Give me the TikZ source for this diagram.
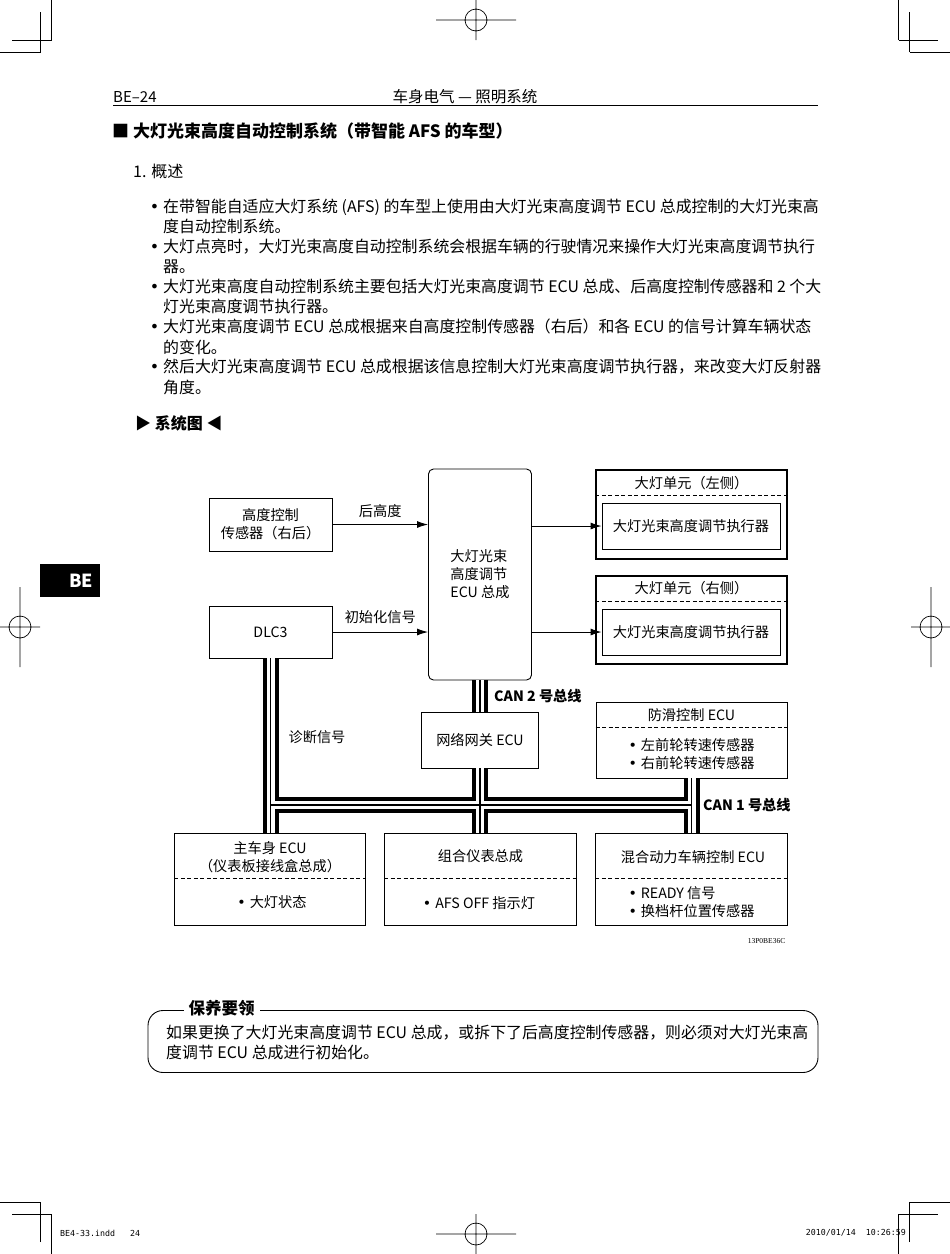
\documentclass[tikz,border=0pt]{standalone}
\usepackage{fontspec}
\setmainfont{Noto Sans CJK SC}
\newfontfamily\footfont{DejaVu Sans Mono}
\newfontfamily\codefont{Liberation Serif}
\newfontfamily\symfont{DejaVu Sans}
\usetikzlibrary{arrows.meta}

\newcommand{\dsize}{\fontsize{14.2}{18}\selectfont}
\newcommand{\tsize}{\fontsize{15.9}{20}\selectfont}
\newcommand{\dotmark}{{\symfont •}\hspace{4pt}}

\begin{document}
\begin{tikzpicture}[x=1pt, y=-1pt,
    box/.style={draw, line width=0.9pt, inner sep=0pt, font=\dsize, align=center},
    unit/.style={draw, line width=1.3pt, inner sep=0pt},
    lbl/.style={inner sep=0pt, font=\dsize},
    body/.style={inner sep=0pt, font=\tsize, anchor=base west},
    sepline/.style={line width=0.7pt, dash pattern=on 4pt off 2.5pt},
    sig/.style={line width=0.9pt, -{Latex[length=11pt, width=7pt]}},
    crop/.style={line width=0.7pt}]
    \useasboundingbox (0,0) rectangle (950,1254);

    % crop marks
    \draw[crop] (51.5,0) -- (51.5,40) (12,40) -- (51.5,40) (40.5,12) -- (40.5,52) (0,52) -- (40.5,52);
    \draw[crop] (898.5,0) -- (898.5,40) (898.5,40) -- (938,40) (909.5,12) -- (909.5,52) (909.5,52) -- (950,52);
    \draw[crop] (51.5,1254) -- (51.5,1214) (12,1214) -- (51.5,1214) (40.5,1242) -- (40.5,1202) (0,1202) -- (40.5,1202);
    \draw[crop] (898.5,1254) -- (898.5,1214) (898.5,1214) -- (938,1214) (909.5,1242) -- (909.5,1202) (909.5,1202) -- (950,1202);
    % register marks
    \draw[crop] (476,20) circle[radius=11] (436,20) -- (516,20) (476,0) -- (476,40);
    \draw[crop] (476,1234) circle[radius=11] (436,1234) -- (516,1234) (476,1214) -- (476,1254);
    \draw[crop] (20,627) circle[radius=11] (0,627) -- (40,627) (20,587) -- (20,667);
    \draw[crop] (931,627) circle[radius=11] (911,627) -- (950,627) (931,587) -- (931,667);

    % side tab
    \node (tab) [fill=black, text=white, inner xsep=7pt, inner ysep=0pt, minimum height=33pt, text width=46pt, align=right, font=\bfseries\fontsize{18}{18}\selectfont] at (70,580.5) {BE};

    % header
    \node (pgno) [anchor=base west, inner sep=0pt, font=\fontsize{15}{15}\selectfont] at (113,102) {BE–24};
    \node (hdr) [anchor=base, inner sep=0pt, font=\fontsize{15.5}{15.5}\selectfont] at (465,102.5) {车身电气 — 照明系统};
    \draw[line width=1.8pt] (113,105.5) -- (818,105.5);

    \node (title) [anchor=base west, inner sep=0pt, font=\bfseries\fontsize{17}{17}\selectfont] at (112,137.5) {■ 大灯光束高度自动控制系统（带智能 AFS 的车型）};
    \node (sec) [body, font=\fontsize{16}{16}\selectfont] at (133,177.5) {1. 概述};

    % overview text
    \node (p1a) [body] at (163,212.7) {\llap{\dotmark}在带智能自适应大灯系统 (AFS) 的车型上使用由大灯光束高度调节 ECU 总成控制的大灯光束高};
    \node (p1b) [body] at (163,232.7) {度自动控制系统。};
    \node (p2a) [body] at (163,252.5) {\llap{\dotmark}大灯点亮时，大灯光束高度自动控制系统会根据车辆的行驶情况来操作大灯光束高度调节执行};
    \node (p2b) [body] at (163,272.7) {器。};
    \node (p3a) [body] at (163,292.7) {\llap{\dotmark}大灯光束高度自动控制系统主要包括大灯光束高度调节 ECU 总成、后高度控制传感器和 2 个大};
    \node (p3b) [body] at (163,312.7) {灯光束高度调节执行器。};
    \node (p4a) [body] at (163,332.7) {\llap{\dotmark}大灯光束高度调节 ECU 总成根据来自高度控制传感器（右后）和各 ECU 的信号计算车辆状态};
    \node (p4b) [body] at (163,353.3) {的变化。};
    \node (p5a) [body] at (163,372.7) {\llap{\dotmark}然后大灯光束高度调节 ECU 总成根据该信息控制大灯光束高度调节执行器，来改变大灯反射器};
    \node (p5b) [body] at (163,393.3) {角度。};

    \node (figttl) [body, font=\bfseries\fontsize{16}{16}\selectfont] at (135,429.5) {▶ 系统图 ◀};

    % system diagram
    \node (ecu) [box, rounded corners=5pt, align=left, minimum width=103pt, minimum height=211pt] at (480,574.5) {大灯光束\\高度调节\\ECU 总成};
    \node (hsens) [box, minimum width=123pt, minimum height=53pt] at (270.5,524.5) {高度控制\\传感器（右后）};
    \node (dlc) [box, minimum width=123pt, minimum height=52pt] at (270.5,632) {DLC3};

    \draw[sig] (hsens.east) -- (hsens.east -| ecu.west) node[midway, above=6pt, lbl] (rearlbl) {后高度};
    \draw[sig] (dlc.east) -- (dlc.east -| ecu.west) node[midway, above=7.5pt, lbl] (initlbl) {初始化信号};

    \node (unitL) [unit, minimum width=191pt, minimum height=89pt] at (691.5,514.5) {};
    \draw[sepline] (unitL.west |- 0,495) -- (unitL.east |- 0,495);
    \node (unitLt) [lbl] at (691.5,483) {大灯单元（左侧）};
    \node (actL) [box, minimum width=178pt, minimum height=46pt] at (691,526) {大灯光束高度调节执行器};
    \draw[sig] (ecu.east |- actL.west) -- (actL.west);

    \node (unitR) [unit, minimum width=191pt, minimum height=88pt] at (691.5,620) {};
    \draw[sepline] (unitR.west |- 0,601) -- (unitR.east |- 0,601);
    \node (unitRt) [lbl] at (691.5,588.5) {大灯单元（右侧）};
    \node (actR) [box, minimum width=178pt, minimum height=46pt] at (691,632) {大灯光束高度调节执行器};
    \draw[sig] (ecu.east |- actR.west) -- (actR.west);

    \node (gw) [box, minimum width=117pt, minimum height=56pt] at (480,740) {网络网关 ECU};

    \node (abs) [box, minimum width=191pt, minimum height=75.3pt] at (691.5,740.3) {};
    \draw[sepline] (abs.west |- 0,727.7) -- (abs.east |- 0,727.7);
    \node (abst) [lbl] at (691.5,715) {防滑控制 ECU};
    \node (absb) [lbl, align=left, anchor=west] at (628.4,754) {\dotmark 左前轮转速传感器\\\dotmark 右前轮转速传感器};

    \node (body) [box, minimum width=190.5pt, minimum height=92pt] at (270,879) {};
    \draw[sepline] (body.west |- 0,878) -- (body.east |- 0,878);
    \node (bodyt) [lbl, align=center] at (270,857) {主车身 ECU\\（仪表板接线盒总成）};
    \node (bodyb) [lbl] at (272,902) {\dotmark 大灯状态};

    \node (meter) [box, minimum width=192pt, minimum height=92pt] at (480.5,879) {};
    \draw[sepline] (meter.west |- 0,878) -- (meter.east |- 0,878);
    \node (metert) [lbl] at (480.5,856) {组合仪表总成};
    \node (meterb) [lbl] at (479,903) {\dotmark AFS OFF 指示灯};

    \node (hyb) [box, minimum width=192pt, minimum height=92pt] at (691.5,879) {};
    \draw[sepline] (hyb.west |- 0,878) -- (hyb.east |- 0,878);
    \node (hybt) [lbl] at (693,857) {混合动力车辆控制 ECU};
    \node (hybb) [lbl, align=left, anchor=west] at (628.4,902) {\dotmark READY 信号\\\dotmark 换档杆位置传感器};

    % bus lines
    \coordinate (jL) at (dlc.south |- 0,805);
    \coordinate (jR) at (abs.south |- 0,805);
    \foreach \w/\c in {16/black, 8/white, 1.2/black}
        \draw[line width=\w pt, \c] (dlc.south) -- (dlc.south |- body.north)
            (jL) -- (jR)
            (ecu.south) -- (gw.north)
            (gw.south) -- (gw.south |- meter.north)
            (abs.south) -- (abs.south |- hyb.north);

    \node (diag) [lbl] at (317,737) {诊断信号};
    \node (can2) [lbl, font=\bfseries\dsize, anchor=west] at (494,696) {CAN 2 号总线};
    \node (can1) [lbl, font=\bfseries\dsize, anchor=west] at (703,805) {CAN 1 号总线};
    \node (figid) [inner sep=0pt, font=\codefont\fontsize{7.5}{7.5}\selectfont] at (766.5,941) {13P0BE36C};

    % service note
    \node (note) [draw, line width=0.9pt, rounded corners=15pt, minimum width=670pt, minimum height=62pt] at (483,1041.5) {};
    \node (notet) [fill=white, inner xsep=5pt, inner ysep=1pt, font=\bfseries\fontsize{16.5}{16.5}\selectfont] at (221.5,1008) {保养要领};
    \node (n1) [body] at (166,1038.7) {如果更换了大灯光束高度调节 ECU 总成，或拆下了后高度控制传感器，则必须对大灯光束高};
    \node (n2) [body] at (166,1058.2) {度调节 ECU 总成进行初始化。};

    % footer
    \node (ftl) [anchor=west, inner sep=0pt, font=\footfont\fontsize{8.3}{8.3}\selectfont] at (60,1233) {BE4-33.indd\ \ \ 24};
    \node (ftr) [anchor=east, inner sep=0pt, font=\footfont\fontsize{8.3}{8.3}\selectfont] at (906,1233) {2010/01/14\ \ 10:26:59};
\end{tikzpicture}
\end{document}
